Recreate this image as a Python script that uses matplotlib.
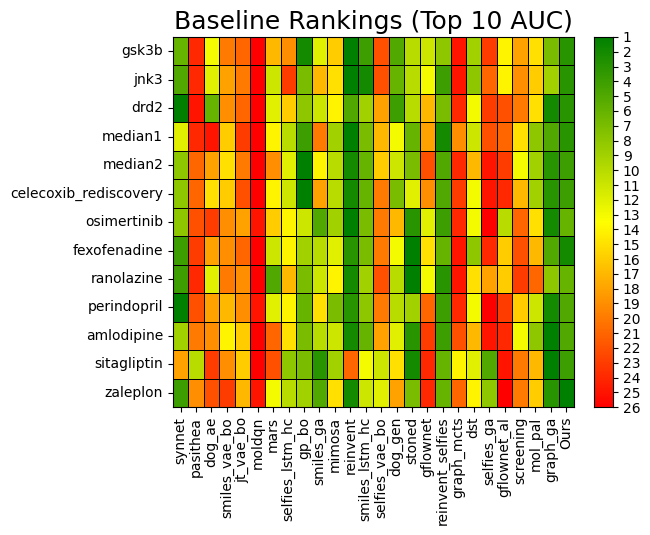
import matplotlib
matplotlib.use('Agg')
import matplotlib.pyplot as plt
from matplotlib.colors import LinearSegmentedColormap
import numpy as np
import seaborn as sns

methods = ['synnet', 'pasithea', 'dog_ae', 'smiles_vae_bo', 'jt_vae_bo', 'moldqn', 'mars',
           'selfies_lstm_hc', 'gp_bo', 'smiles_ga', 'mimosa', 'reinvent', 'smiles_lstm_hc',
           'selfies_vae_bo', 'dog_gen', 'stoned', 'gflownet', 'reinvent_selfies', 'graph_mcts',
           'dst', 'selfies_ga', 'gflownet_al', 'screening', 'mol_pal', 'graph_ga', 'Ours']
tasks = ['gsk3b', 'jnk3', 'drd2', 'median1', 'median2', 'celecoxib_rediscovery', 'osimertinib',
         'fexofenadine', 'ranolazine', 'perindopril', 'amlodipine', 'sitagliptin', 'zaleplon']

# rank of each method per task (1 = best)
gsk3b = [6, 24, 13, 20, 21, 26, 17, 19, 2, 12, 16, 1, 4, 22, 5, 10, 11, 8, 25, 9, 23, 14, 18, 15, 7, 3]
jnk3 = [5, 24, 12, 18, 20, 26, 11, 23, 7, 17, 15, 1, 2, 22, 6, 10, 13, 4, 25, 8, 21, 14, 19, 16, 9, 3]
drd2 = [1, 25, 6, 19, 21, 26, 12, 16, 8, 11, 14, 5, 9, 18, 4, 10, 17, 7, 24, 13, 23, 22, 20, 15, 2, 3]
median1 = [12, 24, 25, 16, 23, 26, 14, 10, 4, 20, 9, 1, 7, 17, 13, 6, 18, 2, 19, 11, 22, 21, 15, 8, 5, 3]
median2 = [8, 21, 18, 15, 20, 26, 19, 12, 1, 14, 10, 2, 6, 16, 11, 7, 22, 5, 24, 17, 25, 23, 13, 9, 3, 4]
celecoxib = [8, 21, 15, 16, 22, 26, 14, 11, 1, 18, 10, 2, 6, 20, 7, 12, 19, 5, 23, 13, 25, 24, 17, 9, 3, 4]
osimertinib = [8, 22, 23, 19, 18, 25, 16, 14, 11, 5, 9, 1, 7, 20, 17, 3, 12, 4, 24, 13, 26, 10, 21, 15, 2, 6]
fexofenadine = [4, 23, 18, 19, 21, 26, 11, 14, 9, 10, 12, 3, 7, 20, 13, 1, 15, 6, 25, 8, 24, 16, 22, 17, 5, 2]
ranolazine = [4, 24, 12, 20, 19, 26, 5, 17, 7, 11, 14, 2, 9, 22, 10, 1, 13, 3, 25, 15, 18, 16, 23, 21, 8, 6]
perindopril = [1, 22, 18, 17, 19, 25, 12, 14, 6, 15, 7, 3, 8, 20, 10, 9, 21, 4, 24, 13, 26, 23, 16, 11, 2, 5]
amlodipine = [9, 20, 19, 14, 16, 26, 21, 15, 7, 10, 11, 2, 6, 18, 12, 3, 23, 4, 22, 17, 25, 24, 13, 8, 1, 5]
sitagliptin = [18, 10, 23, 19, 16, 26, 22, 8, 7, 3, 9, 21, 13, 11, 15, 2, 24, 6, 14, 12, 5, 25, 20, 17, 1, 4]
zaleplon = [4, 19, 22, 23, 17, 25, 13, 10, 9, 5, 15, 2, 11, 12, 18, 7, 24, 6, 21, 14, 8, 26, 20, 16, 3, 1]

ranks = np.array([gsk3b, jnk3, drd2, median1, median2, celecoxib, osimertinib, fexofenadine,
                  ranolazine, perindopril, amlodipine, sitagliptin, zaleplon])

cmap = LinearSegmentedColormap.from_list('rank', ['green', 'yellow', 'red'])

fig = plt.figure(figsize=(6.5, 5.35), dpi=100)
ax = fig.add_axes([0.266, 0.239, 0.617, 0.692])
cax = fig.add_axes([0.914, 0.239, 0.029, 0.692])

sns.heatmap(ranks, ax=ax, cbar_ax=cax, cmap=cmap, vmin=1, vmax=26,
            linewidths=0.7, linecolor='black', xticklabels=methods, yticklabels=tasks,
            cbar_kws={'ticks': range(1, 27)})

ax.set_title('Baseline Rankings (Top 10 AUC)', fontsize=18)
ax.set_xticklabels(methods, rotation=90, fontsize=10)
ax.set_yticklabels(tasks, rotation=0, fontsize=10)
for side in ['top', 'bottom', 'left', 'right']:
    ax.spines[side].set_visible(True)
    ax.spines[side].set_color('black')
    ax.spines[side].set_linewidth(0.8)

cax.invert_yaxis()
cax.tick_params(labelsize=10)
for side in ['top', 'bottom', 'left', 'right']:
    cax.spines[side].set_visible(True)
    cax.spines[side].set_linewidth(0.8)

fig.savefig('out.png', dpi=100)
plt.close()
